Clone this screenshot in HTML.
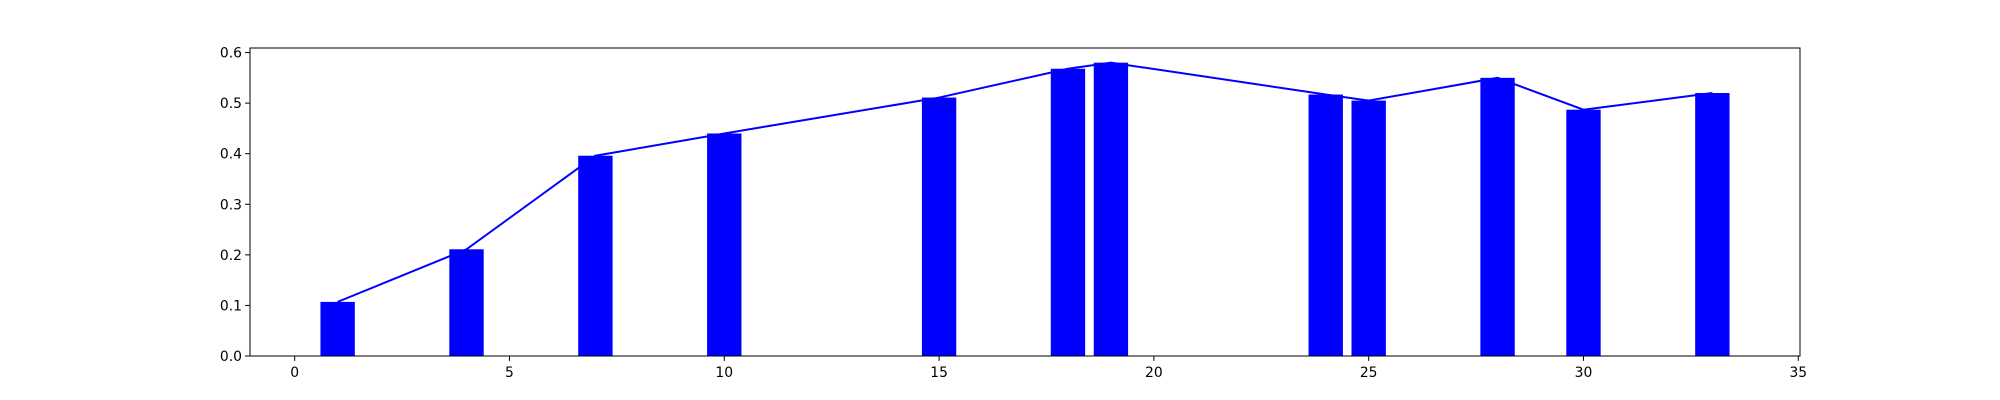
<!DOCTYPE html>
<html><head><meta charset="utf-8"><style>
html,body{margin:0;padding:0;background:#fff;}
svg{display:block;font-family:"DejaVu Sans","Liberation Sans",sans-serif;}
</style></head><body>
<svg id="chart" width="2000" height="400"></svg>
<script>
const xValues=[1,4,7,10,15,18,19,24,25,28,30,33];
const yValues=[0.107,0.211,0.396,0.440,0.511,0.568,0.580,0.517,0.505,0.550,0.487,0.520];
const xTicks=[0,5,10,15,20,25,30,35];
const yTicks=[0.0,0.1,0.2,0.3,0.4,0.5,0.6];
const NS='http://www.w3.org/2000/svg';
const svg=document.getElementById('chart');
const L=250,R=1800,T=48,B=356;
const xmin=-1.04,xmax=35.04,ymin=0,ymax=0.609;
const sx=v=>L+(v-xmin)/(xmax-xmin)*(R-L);
const sy=v=>B-(v-ymin)/(ymax-ymin)*(B-T);
function mk(tag,attrs){const e=document.createElementNS(NS,tag);for(const k in attrs)e.setAttribute(k,attrs[k]);svg.appendChild(e);return e;}
const bw=0.8;
xValues.forEach((x,i)=>{
 const r=mk('rect',{x:sx(x-bw/2),y:sy(yValues[i]),width:sx(x+bw/2)-sx(x-bw/2),height:sy(0)-sy(yValues[i]),fill:'#0000ff'});
 
 
});
const pts=xValues.map((x,i)=>sx(x)+','+sy(yValues[i])).join(' ');
const pl=mk('polyline',{points:pts,fill:'none',stroke:'#0000ff','stroke-width':2});


const fr=mk('rect',{x:L,y:T,width:R-L,height:B-T,fill:'none',stroke:'#000','stroke-width':1});


xTicks.forEach(t=>{
 const x=sx(t);
 mk('line',{x1:x,y1:B,x2:x,y2:B+4.9,stroke:'#000','stroke-width':1});
 const tx=mk('text',{x:x,y:B+21,'text-anchor':'middle','font-size':'13.9px',fill:'#000'});
 tx.textContent=String(t);
 
 
});
yTicks.forEach(t=>{
 const y=sy(t);
 mk('line',{x1:L-4.9,y1:y,x2:L,y2:y,stroke:'#000','stroke-width':1});
 const tx=mk('text',{x:L-8,y:y+5,'text-anchor':'end','font-size':'13.9px',fill:'#000'});
 tx.textContent=t.toFixed(1);
 
 
});
</script>
</body></html>
